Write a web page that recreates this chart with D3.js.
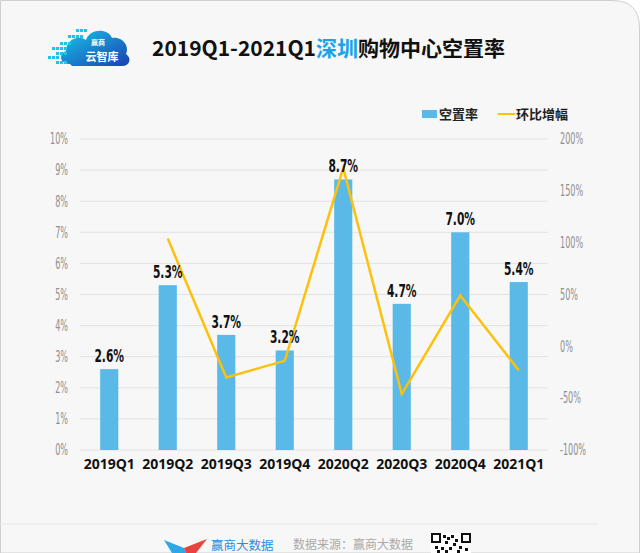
<!DOCTYPE html>
<html>
<head>
<meta charset="utf-8">
<script src="https://cdn.jsdelivr.net/npm/d3@7"></script>
<style>
  html, body { margin: 0; padding: 0; background: #fff; }
  svg { display: block; }
</style>
</head>
<body>
<svg id="chart" width="640" height="553"></svg>
<script>
// quarters on the x axis
const quarters = ["2019Q1", "2019Q2", "2019Q3", "2019Q4", "2020Q2", "2020Q3", "2020Q4", "2021Q1"];
// vacancy rate (%), bars
const vacancy = [2.6, 5.3, 3.7, 3.2, 8.7, 4.7, 7.0, 5.4];
// quarter-on-quarter change (%), line; first quarter has no value
const change = [null, 104, -30, -14, 172, -46, 49, -23];
const leftTicks = [0, 1, 2, 3, 4, 5, 6, 7, 8, 9, 10];
const rightTicks = [-100, -50, 0, 50, 100, 150, 200];

const svg = d3.select("#chart");
const W = 640, H = 553;
const narrow = "DejaVu Sans Condensed, DejaVu Sans, sans-serif";

// card background with rounded top-right corner
svg.append("path")
  .attr("d", `M0.5,0.5 H${W - 28} Q${W - 0.5},0.5 ${W - 0.5},28 V${H} H0.5 Z`)
  .attr("fill", "#f7f7f7")
  .attr("stroke", "#cfcfcf")
  .attr("stroke-width", 1);

// logo (rough cloud)
const logo = svg.append("g").attr("transform", "translate(44,20)");
const grad = svg.append("defs").append("linearGradient")
  .attr("id", "cloudGrad").attr("x1", "0").attr("x2", "1").attr("y1", "0").attr("y2", "1");
grad.append("stop").attr("offset", "0").attr("stop-color", "#19c6ea");
grad.append("stop").attr("offset", "1").attr("stop-color", "#1a3fb0");
logo.append("path")
  .attr("d", "M26,44 C16,44 14,34 22,31 C22,20 34,14 42,20 C46,8 64,8 68,18 C78,16 86,26 82,34 C88,38 86,46 78,46 L28,46 Z")
  .attr("fill", "url(#cloudGrad)");
const dots = [[12, 32, 3], [8, 27, 4], [4, 36, 3], [12, 41, 3], [16, 22, 3], [24, 15, 4], [32, 9, 3]];
dots.forEach(([x, y, n]) => {
  for (let k = 0; k < n; k++) {
    logo.append("rect").attr("x", x + k * 4).attr("y", y).attr("width", 3).attr("height", 3)
      .attr("fill", "#22c3ea");
  }
});
logo.append("text").attr("x", 54).attr("y", 25).attr("text-anchor", "middle")
  .attr("font-family", "Noto Sans CJK SC").attr("font-size", 7).attr("font-weight", "bold")
  .attr("fill", "#fff").text("赢商");
logo.append("text").attr("x", 58).attr("y", 41).attr("text-anchor", "middle")
  .attr("font-family", "Noto Sans CJK SC").attr("font-size", 11).attr("font-weight", "bold")
  .attr("fill", "#fff").text("云智库");

// title
const title = svg.append("text")
  .attr("x", 152).attr("y", 56)
  .attr("font-family", "Noto Sans CJK SC").attr("font-size", 21).attr("font-weight", "bold")
  .attr("fill", "#111");
title.append("tspan").text("2019Q1-2021Q1");
title.append("tspan").attr("fill", "#1aa3e8").text("深圳");
title.append("tspan").text("购物中心空置率");

// legend
svg.append("rect").attr("x", 422).attr("y", 110).attr("width", 15).attr("height", 8).attr("fill", "#5ab9e6");
svg.append("text").attr("x", 439).attr("y", 119)
  .attr("font-family", "Noto Sans CJK SC").attr("font-size", 13).attr("font-weight", "bold")
  .attr("fill", "#222").text("空置率");
svg.append("line").attr("x1", 498).attr("x2", 515).attr("y1", 114).attr("y2", 114)
  .attr("stroke", "#fdc10c").attr("stroke-width", 2);
svg.append("text").attr("x", 516).attr("y", 119)
  .attr("font-family", "Noto Sans CJK SC").attr("font-size", 13).attr("font-weight", "bold")
  .attr("fill", "#222").text("环比增幅");

// scales
const x0 = 80, x1 = 548, yTop = 139, yBot = 450;
const x = d3.scaleBand().domain(quarters).range([x0, x1]).paddingInner(0.69).paddingOuter(0.345);
const y = d3.scaleLinear().domain([0, 10]).range([yBot, yTop]);
const y2 = d3.scaleLinear().domain([-100, 200]).range([yBot, yTop]);

// gridlines
svg.append("g").selectAll("line").data(leftTicks).join("line")
  .attr("x1", x0).attr("x2", x1)
  .attr("y1", d => y(d)).attr("y2", d => y(d))
  .attr("stroke", "#e2e2e2").attr("stroke-width", 1);

// tick labels are squeezed horizontally to mimic the narrow font
const sx = 0.6;

// left axis
const leftAxis = svg.append("g").attr("transform", `translate(${x0},0)`)
  .call(d3.axisLeft(y).tickValues(leftTicks).tickFormat(d => d + "%").tickSize(0));
leftAxis.select(".domain").remove();
leftAxis.selectAll("text")
  .attr("x", -12 / sx).attr("transform", `scale(${sx},1)`)
  .attr("font-family", narrow).attr("font-size", 15).attr("fill", "#8f8f8f");

// right axis
const rightAxis = svg.append("g").attr("transform", `translate(${x1},0)`)
  .call(d3.axisRight(y2).tickValues(rightTicks).tickFormat(d => d + "%").tickSize(0));
rightAxis.select(".domain").remove();
rightAxis.selectAll("text")
  .attr("x", 12 / sx).attr("transform", `scale(${sx},1)`)
  .attr("font-family", narrow).attr("font-size", 15).attr("fill", "#8f8f8f");

// x axis
const xAxis = svg.append("g").attr("transform", `translate(0,${yBot})`)
  .call(d3.axisBottom(x).tickSize(0).tickPadding(9));
xAxis.select(".domain").remove();
xAxis.selectAll("text")
  .attr("font-family", "Open Sans").attr("font-size", 14).attr("font-weight", "bold").attr("fill", "#111");

// bars
svg.append("g").selectAll("rect").data(vacancy).join("rect")
  .attr("x", (d, i) => x(quarters[i]))
  .attr("y", d => y(d))
  .attr("width", x.bandwidth())
  .attr("height", d => yBot - y(d))
  .attr("fill", "#5ab9e6");

// line
const pts = change.map((d, i) => [x(quarters[i]) + x.bandwidth() / 2, d]).filter(p => p[1] !== null);
svg.append("path")
  .datum(pts)
  .attr("d", d3.line().x(p => p[0]).y(p => y2(p[1])))
  .attr("fill", "none").attr("stroke", "#fdc10c").attr("stroke-width", 2.5)
  .attr("stroke-linejoin", "miter");

// bar labels
svg.append("g").selectAll("text").data(vacancy).join("text")
  .attr("transform", (d, i) => `translate(${x(quarters[i]) + x.bandwidth() / 2},${y(d) - 7}) scale(0.66,1)`)
  .attr("text-anchor", "middle")
  .attr("font-family", narrow).attr("font-weight", "bold").attr("font-size", 18)
  .attr("fill", "#111")
  .text(d => d.toFixed(1) + "%");

// footer
svg.append("line").attr("x1", 0).attr("x2", 598).attr("y1", 524).attr("y2", 524)
  .attr("stroke", "#e6e6e6").attr("stroke-width", 1);
const foot = svg.append("g");
foot.append("path").attr("d", "M164,540 L184,548 L186,553 L172,553 Z").attr("fill", "#2aa8e8");
foot.append("path").attr("d", "M184,548 L207,539 L196,553 L186,553 Z").attr("fill", "#e8433d");
foot.append("text").attr("x", 211).attr("y", 550)
  .attr("font-family", "Noto Sans CJK SC").attr("font-size", 12.5).attr("fill", "#2a8fe0").text("赢商大数据");
foot.append("text").attr("x", 293).attr("y", 549)
  .attr("font-family", "Noto Sans CJK SC").attr("font-size", 12).attr("fill", "#aaa").text("数据来源：赢商大数据");
const qr = foot.append("g").attr("transform", "translate(431,533)");
qr.append("rect").attr("width", 40).attr("height", 20).attr("fill", "#fff");
[[1, 1], [31, 1]].forEach(([a, b]) => {
  qr.append("rect").attr("x", a).attr("y", b).attr("width", 8).attr("height", 8)
    .attr("fill", "none").attr("stroke", "#111").attr("stroke-width", 2);
});
const qrBits = [[12, 2], [16, 4], [20, 2], [24, 6], [14, 8], [22, 10], [4, 13], [10, 14], [18, 14], [28, 13], [34, 15], [6, 17], [26, 17], [14, 17]];
qrBits.forEach(([a, b]) => qr.append("rect").attr("x", a).attr("y", b).attr("width", 3).attr("height", 3).attr("fill", "#111"));
</script>
</body>
</html>
